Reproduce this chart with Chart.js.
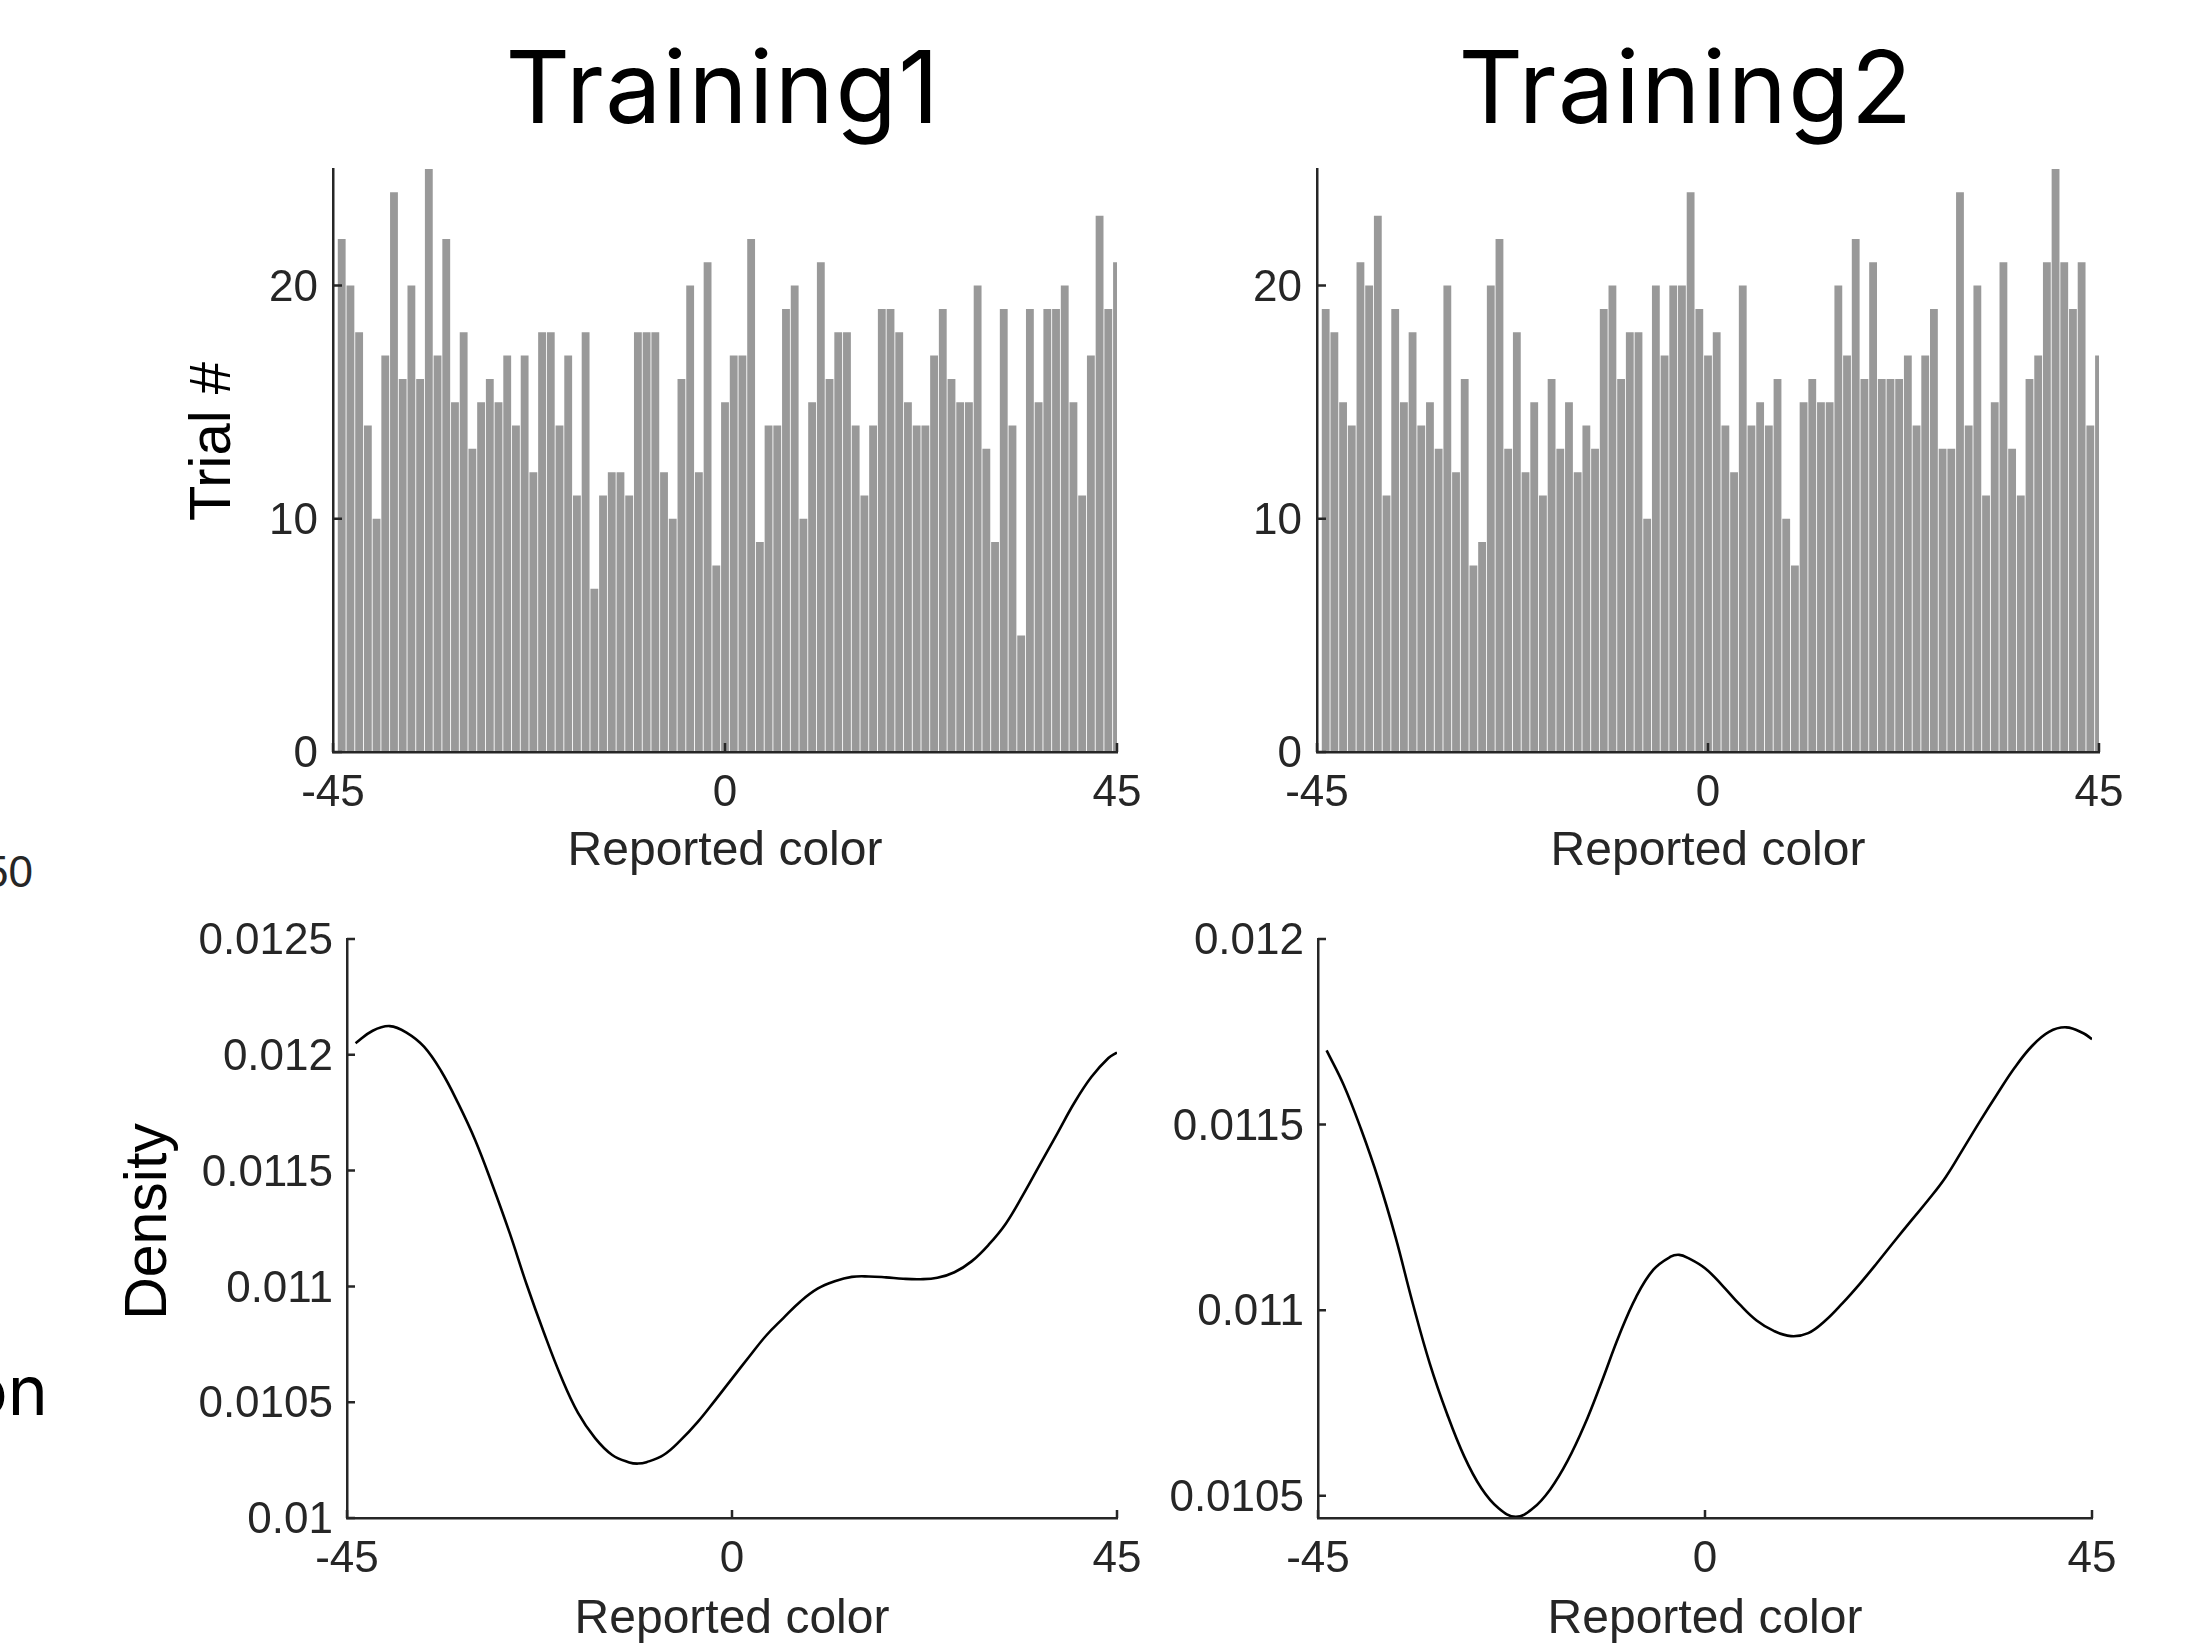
<!DOCTYPE html>
<html>
<head>
<meta charset="utf-8">
<script src="https://cdn.jsdelivr.net/npm/chart.js@4.4.1/dist/chart.umd.min.js"></script>
<style>
html,body{margin:0;padding:0;background:#fff;overflow:hidden;width:2204px;height:1643px;}
canvas{position:absolute;}
.txt{position:absolute;white-space:nowrap;}
.title{font-family:Inter,'DejaVu Sans',sans-serif;font-size:100px;line-height:100px;letter-spacing:1.5px;color:#000;text-align:center;width:800px;}
.frag1{font-family:'Liberation Sans',Arial,sans-serif;font-size:44px;line-height:44px;color:#262626;text-align:right;width:100px;}
.frag2{font-family:Inter,'DejaVu Sans',sans-serif;font-size:68px;line-height:68px;color:#000;text-align:right;width:200px;}
</style>
</head>
<body>
<div class="txt title" style="left:323px;top:37px;">Training1</div>
<div class="txt title" style="left:1286px;top:37px;">Training2</div>
<div class="txt frag1" style="left:-67px;top:850px;">50</div>
<div class="txt frag2" style="left:-152px;top:1356px;">on</div>

<canvas id="c1" width="987" height="754" style="left:180px;top:124px;"></canvas>
<canvas id="c2" width="932" height="754" style="left:1217px;top:124px;"></canvas>
<canvas id="c3" width="1052" height="751" style="left:115px;top:894px;"></canvas>
<canvas id="c4" width="1024" height="751" style="left:1118px;top:894px;"></canvas>

<script>
// ---------------- data ----------------
const binCenters = [-44,-43,-42,-41,-40,-39,-38,-37,-36,-35,-34,-33,-32,-31,-30,-29,-28,-27,-26,-25,-24,-23,-22,-21,-20,-19,-18,-17,-16,-15,-14,-13,-12,-11,-10,-9,-8,-7,-6,-5,-4,-3,-2,-1,0,1,2,3,4,5,6,7,8,9,10,11,12,13,14,15,16,17,18,19,20,21,22,23,24,25,26,27,28,29,30,31,32,33,34,35,36,37,38,39,40,41,42,43,44,45];

const training1Counts = [22,20,18,14,10,17,24,16,20,16,25,17,22,15,18,13,15,16,15,17,14,17,12,18,18,14,17,11,18,7,11,12,12,11,18,18,18,12,10,16,20,12,21,8,15,17,17,22,9,14,14,19,20,10,15,21,16,18,18,14,11,14,19,19,18,15,14,14,17,19,16,15,15,20,13,9,19,14,5,19,15,19,19,20,15,11,17,23,19,21];

const training2Counts = [19,18,15,14,21,20,23,11,19,15,18,14,15,13,20,12,16,8,9,20,22,13,18,12,15,11,16,13,15,12,14,13,19,20,16,18,18,10,20,17,20,20,24,19,17,18,14,12,20,14,15,14,16,10,8,15,16,15,15,20,17,22,16,21,16,16,16,17,14,17,19,13,13,24,14,20,11,15,21,13,11,16,17,21,25,21,19,21,14,17];

const kde1Angles = [-44,-42,-40,-38,-36,-34,-32,-30,-28,-26,-24,-22,-20,-18,-16,-14,-12,-11,-10,-8,-6,-4,-2,0,2,4,6,8,10,12,14,16,18,20,22,24,26,28,30,32,34,36,38,40,42,44,45];
const kde1Density = [0.01205,0.012104,0.012124,0.012095,0.012035,0.01193,0.01179,0.01163,0.011438,0.011232,0.011008,0.010802,0.010612,0.010454,0.010345,0.010272,0.010240,0.010235,0.010241,0.010272,0.010336,0.010415,0.010507,0.010602,0.010696,0.010788,0.010863,0.010935,0.01099,0.011022,0.011041,0.011043,0.011039,0.011033,0.011031,0.011037,0.011061,0.011108,0.01118,0.011271,0.011394,0.011527,0.011659,0.011792,0.011904,0.011986,0.01201];

const kde2Angles = [-44,-42,-40,-38,-36,-34,-32,-30,-28,-26,-24,-22,-20,-18,-16,-14,-12,-10,-8,-6,-4,-3,-2,0,2,4,6,8,10,12,14,16,18,20,22,24,26,28,30,32,34,36,38,40,42,44,45];
const kde2Density = [0.0117,0.011606,0.011488,0.011354,0.011198,0.01102,0.010856,0.010721,0.010606,0.01052,0.010466,0.010443,0.010466,0.010517,0.010593,0.010691,0.010808,0.010931,0.011036,0.011109,0.011144,0.011149,0.011141,0.011113,0.011067,0.011016,0.010972,0.010944,0.01093,0.010938,0.010972,0.011019,0.011071,0.011127,0.011185,0.011242,0.011298,0.011359,0.011434,0.01151,0.011583,0.011653,0.011711,0.01175,0.011762,0.011746,0.01173];

const xTicks = [-45, 0, 45];
const xTickLabels = ['-45', '0', '45'];
const histYTicks = [0, 10, 20];
const histYTickLabels = ['0', '10', '20'];
const dens1YTicks = [0.01, 0.0105, 0.011, 0.0115, 0.012, 0.0125];
const dens1YTickLabels = ['0.01', '0.0105', '0.011', '0.0115', '0.012', '0.0125'];
const dens2YTicks = [0.0105, 0.011, 0.0115, 0.012];
const dens2YTickLabels = ['0.0105', '0.011', '0.0115', '0.012'];

const xTitle = 'Reported color';
const histYTitle = 'Trial #';
const densYTitle = 'Density';

// ---------------- styling ----------------
const AXIS = '#262626';
const FONT = "'Liberation Sans', Arial, Helvetica, sans-serif";

const inwardTicks = {
  id: 'inwardTicks',
  afterDraw(chart, args, opts) {
    const {ctx, chartArea: a, scales} = chart;
    const xs = scales.x, ys = scales.y;
    ctx.save();
    ctx.strokeStyle = AXIS;
    ctx.lineWidth = 2.5;
    ctx.beginPath();
    xs.ticks.forEach(t => { const p = xs.getPixelForValue(t.value); ctx.moveTo(p, a.bottom); ctx.lineTo(p, a.bottom - opts.len); });
    ys.ticks.forEach(t => { const p = ys.getPixelForValue(t.value); ctx.moveTo(a.left, p); ctx.lineTo(a.left + opts.len, p); });
    ctx.stroke();
    ctx.restore();
  }
};

// y-axis title drawn beside the axis (rotated), offset relative to the chart area
const yAxisLabel = {
  id: 'yAxisLabel',
  afterDraw(chart, args, opts) {
    if (!opts.text) return;
    const {ctx, chartArea: a} = chart;
    ctx.save();
    ctx.translate(a.left - opts.dx, (a.top + a.bottom) / 2 + opts.dy);
    ctx.rotate(-Math.PI / 2);
    ctx.fillStyle = '#000';
    ctx.font = opts.size + 'px ' + FONT;
    ctx.textAlign = 'center';
    ctx.textBaseline = 'middle';
    ctx.fillText(opts.text, 0, 0);
    ctx.restore();
  }
};

function xScale(hx, titleShift) {
  return {
    type: 'linear', min: -45, max: 45, offset: false,
    grid: {display: false, drawTicks: false},
    border: {display: true, color: AXIS, width: 2.5, z: 1},
    afterBuildTicks: s => { s.ticks = xTicks.map(v => ({value: v})); },
    afterFit: s => { s.height = hx; },
    ticks: {autoSkip: false, maxRotation: 0, minRotation: 0, padding: 15, color: AXIS,
            font: {family: FONT, size: 44}, callback: (v, i) => xTickLabels[i]},
    title: {display: true, text: xTitle, color: AXIS, font: {family: FONT, size: 48},
            padding: {top: 0, bottom: -titleShift}}
  };
}

function yScale(min, max, tickVals, tickLabels, wy, pad) {
  return {
    type: 'linear', min: min, max: max,
    grid: {display: false, drawTicks: false},
    border: {display: true, color: AXIS, width: 2.5, z: 1},
    afterBuildTicks: s => { s.ticks = tickVals.map(v => ({value: v})); },
    afterFit: s => { s.width = wy; },
    ticks: {autoSkip: false, padding: pad, labelOffset: 3, color: AXIS,
            font: {family: FONT, size: 44}, callback: (v, i) => tickLabels[i]},
    title: {display: false}
  };
}

function baseOptions(xs, ys, tickLen, label) {
  return {
    responsive: false, animation: false, devicePixelRatio: 1,
    layout: {padding: {left: 0, right: 50, top: 45, bottom: 0}},
    plugins: {legend: {display: false}, tooltip: {enabled: false}, title: {display: false},
              inwardTicks: {len: tickLen}, yAxisLabel: label},
    scales: {x: xs, y: ys}
  };
}

function histChart(id, counts, wy, label) {
  return new Chart(document.getElementById(id), {
    type: 'bar',
    data: {
      datasets: [{
        data: binCenters.map((c, i) => ({x: c, y: counts[i]})),
        backgroundColor: '#999999',
        borderWidth: 0,
        barPercentage: 0.9,
        categoryPercentage: 1.0,
        clip: 0
      }]
    },
    options: baseOptions(xScale(126, 3), yScale(0, 25, histYTicks, histYTickLabels, wy, 15), 9, label),
    plugins: [inwardTicks, yAxisLabel]
  });
}

function densChart(id, angles, dens, min, max, tickVals, tickLabels, wy, label) {
  return new Chart(document.getElementById(id), {
    type: 'line',
    data: {
      datasets: [{
        data: angles.map((a, i) => ({x: a, y: dens[i]})),
        borderColor: '#000000',
        borderWidth: 2.6,
        pointRadius: 0,
        fill: false,
        tension: 0.4
      }]
    },
    options: baseOptions(xScale(127, 4), yScale(min, max, tickVals, tickLabels, wy, 14), 8, label),
    plugins: [inwardTicks, yAxisLabel]
  });
}

histChart('c1', training1Counts, 153, {text: histYTitle, size: 58, dx: 119, dy: -19});
histChart('c2', training2Counts, 100, {text: ''});
densChart('c3', kde1Angles, kde1Density, 0.01, 0.0125, dens1YTicks, dens1YTickLabels, 232, {text: densYTitle, size: 59, dx: 197, dy: -7});
densChart('c4', kde2Angles, kde2Density, 0.01044, 0.012, dens2YTicks, dens2YTickLabels, 200, {text: ''});
</script>
</body>
</html>
